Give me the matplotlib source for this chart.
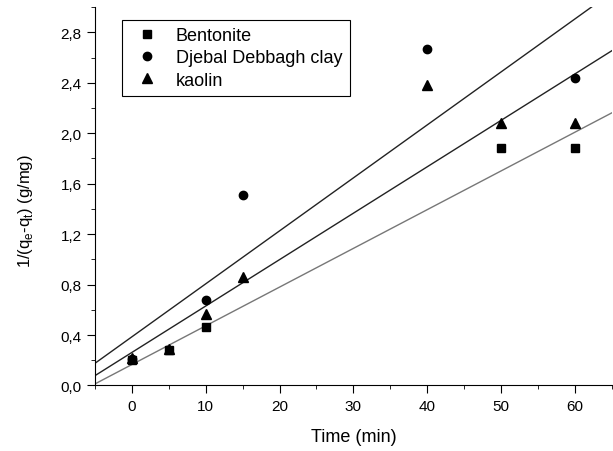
import matplotlib
matplotlib.use('Agg')
import matplotlib.pyplot as plt
from matplotlib.ticker import MultipleLocator, FuncFormatter
import numpy as np

plt.rcParams['font.family'] = ['Liberation Sans', 'DejaVu Sans']
plt.rcParams['mathtext.fontset'] = 'custom'
plt.rcParams['mathtext.rm'] = 'Liberation Sans'

# measured points
t_bent = [0, 5, 10, 50, 60]
q_bent = [0.20, 0.28, 0.46, 1.88, 1.88]
t_djeb = [0, 10, 15, 40, 60]
q_djeb = [0.21, 0.68, 1.51, 2.67, 2.44]
t_kao = [0, 5, 10, 15, 40, 50, 60]
q_kao = [0.22, 0.29, 0.57, 0.86, 2.38, 2.08, 2.08]

# linear fits: slope, intercept
fit_bent = (0.0307, 0.166)
fit_djeb = (0.0420, 0.386)
fit_kao = (0.0368, 0.262)

fig = plt.figure(figsize=(6.13, 4.52), dpi=100)
ax = fig.add_axes([0.155, 0.145, 0.843, 0.837])

xl = np.array([-5, 65])
ax.plot(xl, fit_bent[0]*xl + fit_bent[1], color='#777777', lw=1.0)
ax.plot(xl, fit_djeb[0]*xl + fit_djeb[1], color='#222222', lw=1.0)
ax.plot(xl, fit_kao[0]*xl + fit_kao[1], color='#222222', lw=1.0)

ax.plot(t_bent, q_bent, 's', color='black', ms=5.5, ls='none', label='Bentonite')
ax.plot(t_djeb, q_djeb, 'o', color='black', ms=6, ls='none', label='Djebal Debbagh clay')
ax.plot(t_kao, q_kao, '^', color='black', ms=7, ls='none', label='kaolin')

ax.set_xlim(-5, 65)
ax.set_ylim(0, 3.0)
ax.spines['top'].set_visible(False)
ax.spines['right'].set_visible(False)
ax.xaxis.set_major_locator(MultipleLocator(10))
ax.xaxis.set_minor_locator(MultipleLocator(5))
ax.yaxis.set_major_locator(MultipleLocator(0.4))
ax.yaxis.set_minor_locator(MultipleLocator(0.2))
ax.yaxis.set_major_formatter(FuncFormatter(lambda v, p: ('%.1f' % v).replace('.', ',')))
ax.tick_params(which='major', direction='out', length=6, labelsize=11)
ax.tick_params(which='minor', direction='out', length=3)

ax.set_xlabel('Time (min)', fontsize=13)
ax.set_ylabel(r'1/(q$_\mathregular{e}$-q$_\mathregular{t}$) (g/mg)', fontsize=12)
ax.xaxis.set_label_coords(0.5, -0.112)
ax.yaxis.set_label_coords(-0.116, 0.464)

leg = ax.legend(loc='upper left', bbox_to_anchor=(0.0516, 0.966), borderaxespad=0,
                fontsize=13, fancybox=False, framealpha=1, edgecolor='black',
                handletextpad=0.6, borderpad=0.4, labelspacing=0.29)
leg.get_frame().set_linewidth(0.8)

plt.savefig('out.png')
plt.close()
